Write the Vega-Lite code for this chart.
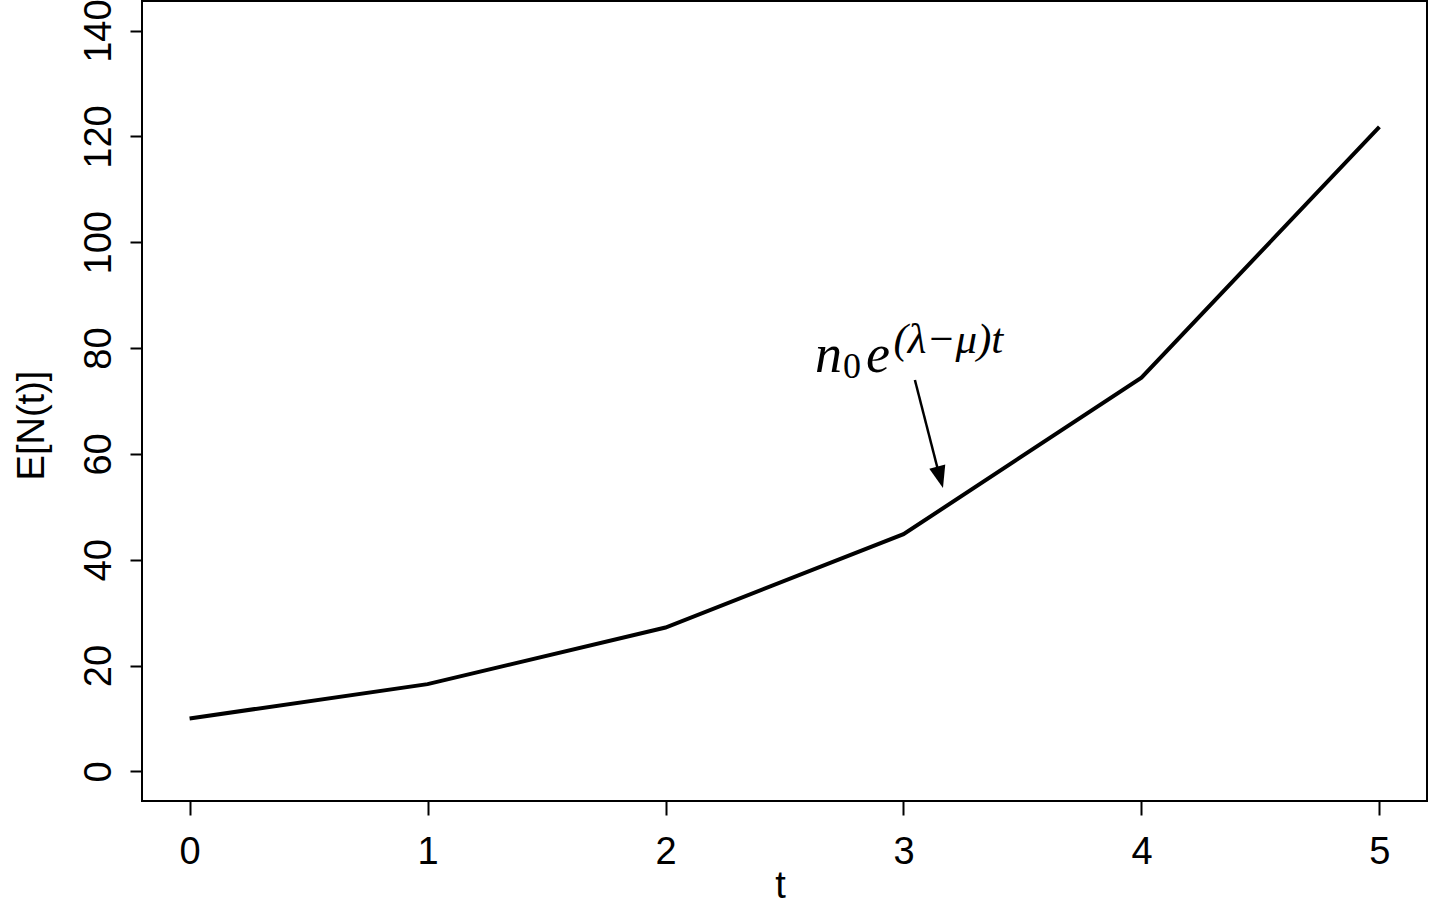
{
  "$schema": "https://vega.github.io/schema/vega-lite/v6.json",
  "width": 1285,
  "height": 800,
  "autosize": {"type": "none"},
  "padding": {"left": 142, "top": 1, "right": 3, "bottom": 100},
  "background": "white",
  "config": {
    "view": {"stroke": "black", "strokeWidth": 2},
    "axis": {
      "domain": false,
      "grid": false,
      "ticks": true,
      "tickColor": "black",
      "tickWidth": 2,
      "labelFont": "Liberation Sans",
      "labelFontSize": 38,
      "labelColor": "black",
      "labelFlush": false,
      "labelOverlap": false,
      "titleFont": "Liberation Sans",
      "titleFontSize": 38,
      "titleFontWeight": "normal",
      "titleColor": "black"
    }
  },
  "datasets": {
    "curve": [
      {"t": 0, "value": 10.0},
      {"t": 1, "value": 16.49},
      {"t": 2, "value": 27.18},
      {"t": 3, "value": 44.82},
      {"t": 4, "value": 74.4},
      {"t": 5, "value": 121.82}
    ],
    "arrow": [
      {"t": 3.048, "value": 73.97, "t2": 3.145, "value2": 56.96}
    ],
    "arrowhead": [
      {"t": 3.151, "value": 56.07}
    ],
    "bigtext": [
      {"t": 2.628, "value": 75.5, "label": "n"},
      {"t": 2.842, "value": 75.5, "label": "e"}
    ],
    "sub": [
      {"t": 2.746, "value": 74.35, "label": "0"}
    ],
    "sup": [
      {"t": 2.958, "value": 79.0, "label": "(λ−μ)t"}
    ]
  },
  "encoding": {
    "x": {
      "field": "t",
      "type": "quantitative",
      "scale": {"domain": [-0.2, 5.2], "nice": false, "zero": false},
      "axis": {
        "values": [0, 1, 2, 3, 4, 5],
        "tickSize": 14,
        "labelBaseline": "alphabetic",
        "labelPadding": 48,
        "title": "t",
        "titleBaseline": "alphabetic",
        "titleY": 96,
        "titleX": 638
      }
    },
    "y": {
      "field": "value",
      "type": "quantitative",
      "scale": {"domain": [-5.6, 145.6], "nice": false, "zero": false},
      "axis": {
        "values": [0, 20, 40, 60, 80, 100, 120, 140],
        "tickSize": 12,
        "labelAngle": 270,
        "labelAlign": "center",
        "labelBaseline": "alphabetic",
        "labelPadding": 20,
        "title": "E[N(t)]",
        "titleAngle": 270,
        "titleAlign": "center",
        "titleBaseline": "alphabetic",
        "titleX": -99,
        "titleY": 424
      }
    }
  },
  "layer": [
    {
      "data": {"name": "curve"},
      "mark": {"type": "line", "color": "black", "strokeWidth": 4}
    },
    {
      "data": {"name": "arrow"},
      "mark": {"type": "rule", "color": "black", "strokeWidth": 2.5},
      "encoding": {
        "x2": {"field": "t2"},
        "y2": {"field": "value2"}
      }
    },
    {
      "data": {"name": "arrowhead"},
      "mark": {
        "type": "point",
        "shape": "M0,1L-0.6,-0.6L0.6,-0.6Z",
        "filled": true,
        "size": 756,
        "angle": 345,
        "color": "black",
        "opacity": 1,
        "strokeWidth": 0
      }
    },
    {
      "data": {"name": "bigtext"},
      "mark": {"type": "text", "font": "Liberation Serif", "fontStyle": "italic", "fontSize": 54, "align": "left", "baseline": "alphabetic", "color": "black"},
      "encoding": {"text": {"field": "label"}}
    },
    {
      "data": {"name": "sub"},
      "mark": {"type": "text", "font": "Liberation Serif", "fontSize": 36, "align": "left", "baseline": "alphabetic", "color": "black"},
      "encoding": {"text": {"field": "label"}}
    },
    {
      "data": {"name": "sup"},
      "mark": {"type": "text", "font": "Liberation Serif", "fontStyle": "italic", "fontSize": 43, "align": "left", "baseline": "alphabetic", "color": "black"},
      "encoding": {"text": {"field": "label"}}
    }
  ]
}
